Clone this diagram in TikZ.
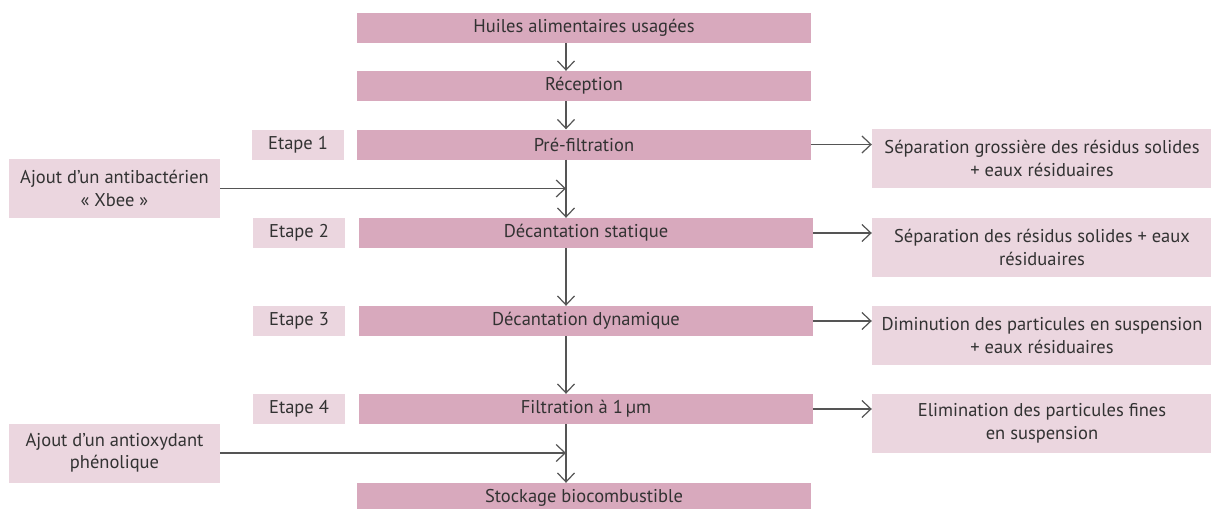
\documentclass[tikz,border=0pt]{standalone}
\usepackage{fontspec}
\setmainfont{PT Sans}
\usetikzlibrary{arrows.meta}

\definecolor{mauve}{RGB}{216,169,189}
\definecolor{rosepale}{RGB}{235,214,223}
\definecolor{trait}{RGB}{85,85,85}
\definecolor{texte}{RGB}{50,50,50}

\tikzset{
  etape/.style={fill=mauve, minimum width=454pt, minimum height=30pt, inner sep=0pt},
  numero/.style={fill=rosepale, minimum width=92pt, minimum height=30pt, inner sep=0pt},
  ajout/.style={fill=rosepale, minimum width=211pt, minimum height=59pt, inner sep=0pt, align=center},
  rejet/.style={fill=rosepale, minimum width=340pt, minimum height=59pt, inner sep=0pt, align=center},
  fleche/.style={-{Straight Barb[length=9pt,width=17pt]}, draw=trait, line width=1.2pt},
}

\begin{document}
\begin{tikzpicture}[x=1pt, y=-1pt, text=texte, font=\fontsize{18.5pt}{22.5pt}\selectfont]
  \useasboundingbox (0,0) rectangle (1211,509);
  \coordinate (axe) at (566,0);

  % chaine principale
  \node[etape] (huiles) at (584,28) {Huiles alimentaires usagées};
  \node[etape] (reception) at (584,86) {Réception};
  \node[etape] (prefiltration) at (584,144.5) {Pré-filtration};
  \node[etape] (statique) at (586,233) {Décantation statique};
  \node[etape] (dynamique) at (586,321) {Décantation dynamique};
  \node[etape] (filtration) at (586,409) {Filtration à 1\,µm};
  \node[etape] (stockage) at (584,498) {Stockage biocombustible};

  % numeros d'etape
  \node[numero] (num1) at (298,144.5) {Etape 1};
  \node[numero] (num2) at (299,233) {Etape 2};
  \node[numero] (num3) at (299,321) {Etape 3};
  \node[numero] (num4) at (299,409) {Etape 4};

  % ajouts
  \node[ajout] (antibact) at (114.5,188.5) {Ajout d’un antibactérien\\«~Xbee~»};
  \node[ajout] (antiox) at (114.5,453) {Ajout d’un antioxydant\\phénolique};

  % rejets
  \node[rejet] (rejet1) at (1042,158.5) {Séparation grossière des résidus solides\\+ eaux résiduaires};
  \node[rejet] (rejet2) at (1042,247.5) {Séparation des résidus solides + eaux\\résiduaires};
  \node[rejet] (rejet3) at (1042,335.5) {Diminution des particules en suspension\\+ eaux résiduaires};
  \node[rejet] (rejet4) at (1042,423.5) {Elimination des particules fines\\en suspension};

  \foreach \a/\b in {huiles/reception, reception/prefiltration, prefiltration/statique,
                     statique/dynamique, dynamique/filtration, filtration/stockage}
    \draw[fleche] (\a.south -| axe) -- (\b.north -| axe);

  \draw[fleche] (antibact.east) -- (antibact.east -| axe);
  \draw[fleche] (antiox.east) -- (antiox.east -| axe);

  \foreach \a/\b in {prefiltration/rejet1, statique/rejet2, dynamique/rejet3, filtration/rejet4}
    \draw[fleche] (\a.east) -- (\a.east -| \b.west);
\end{tikzpicture}
\end{document}
